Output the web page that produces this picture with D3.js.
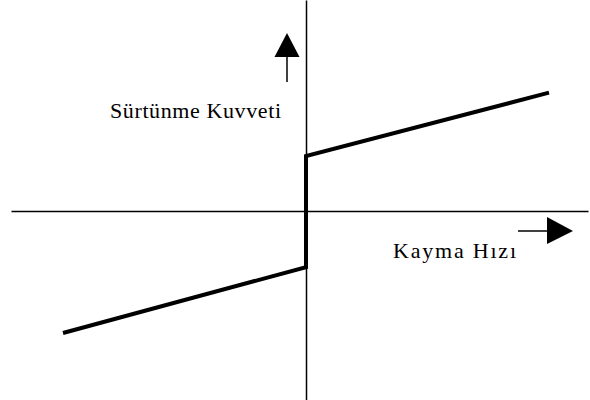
<!DOCTYPE html>
<html>
<head>
<meta charset="utf-8">
<script src="https://cdn.jsdelivr.net/npm/d3@7"></script>
<style>
  body { margin: 0; background: #fff; }
  svg text { font-family: "Liberation Serif", "Times New Roman", serif; fill: #000; }
</style>
</head>
<body>
<svg id="chart"></svg>
<script>
(function() {

// ---------- data ----------
// slip velocity (normalised) and friction force at the curve's corners
const slipVelocity = [-1, 0, 0, 1];
const frictionForce = [-1.0, -0.46, 0.45, 0.97];

const yLabel = "Sürtünme Kuvveti";
const xLabel = "Kayma Hızı";

// ---------- layout ----------
const width = 590;
const height = 400;

const svg = d3.select("#chart")
  .attr("width", width)
  .attr("height", height);

// origin sits at (306, 211)
const x = d3.scaleLinear().domain([-1, 1]).range([63, 549]);
const y = d3.scaleLinear().domain([-1, 1]).range([333, 89]);

// axes: plain domain lines, no ticks
const xAxisScale = d3.scaleLinear()
  .domain([x.invert(11), x.invert(588)])
  .range([11, 588]);
const yAxisScale = d3.scaleLinear()
  .domain([y.invert(400), y.invert(0)])
  .range([400, 0]);

svg.append("g")
  .attr("transform", `translate(0, ${y(0)})`)
  .call(d3.axisBottom(xAxisScale).tickValues([]).tickSizeOuter(0))
  .call(g => g.select(".domain").attr("stroke", "#000").attr("stroke-width", 1.5));

svg.append("g")
  .attr("transform", `translate(${x(0)}, 0)`)
  .call(d3.axisLeft(yAxisScale).tickValues([]).tickSizeOuter(0))
  .call(g => g.select(".domain").attr("stroke", "#000").attr("stroke-width", 1.5));

// friction curve
const line = d3.line()
  .x((d, i) => x(slipVelocity[i]))
  .y(d => y(d));

svg.append("path")
  .datum(frictionForce)
  .attr("d", line)
  .attr("fill", "none")
  .attr("stroke", "#000")
  .attr("stroke-width", 4)
  .attr("stroke-linejoin", "miter");

// arrows
const upArrow = svg.append("g").attr("transform", "translate(287, 0)");
upArrow.append("line")
  .attr("x1", 0).attr("x2", 0)
  .attr("y1", 82).attr("y2", 56)
  .attr("stroke", "#000").attr("stroke-width", 1.5);
upArrow.append("path")
  .attr("d", "M0,33 L-12.5,57 L12.5,57 Z")
  .attr("fill", "#000");

const rightArrow = svg.append("g").attr("transform", "translate(0, 231)");
rightArrow.append("line")
  .attr("x1", 518).attr("x2", 548)
  .attr("y1", 0).attr("y2", 0)
  .attr("stroke", "#000").attr("stroke-width", 1.5);
rightArrow.append("path")
  .attr("d", "M547,-14 L573,0 L547,13 Z")
  .attr("fill", "#000");

// labels
svg.append("text")
  .attr("x", 110)
  .attr("y", 118)
  .attr("font-size", "22px")
  .attr("textLength", 171)
  .attr("lengthAdjust", "spacing")
  .text(yLabel);

svg.append("text")
  .attr("x", 393)
  .attr("y", 258)
  .attr("font-size", "22px")
  .attr("textLength", 123)
  .attr("lengthAdjust", "spacing")
  .text(xLabel);

})();
</script>
</body>
</html>
